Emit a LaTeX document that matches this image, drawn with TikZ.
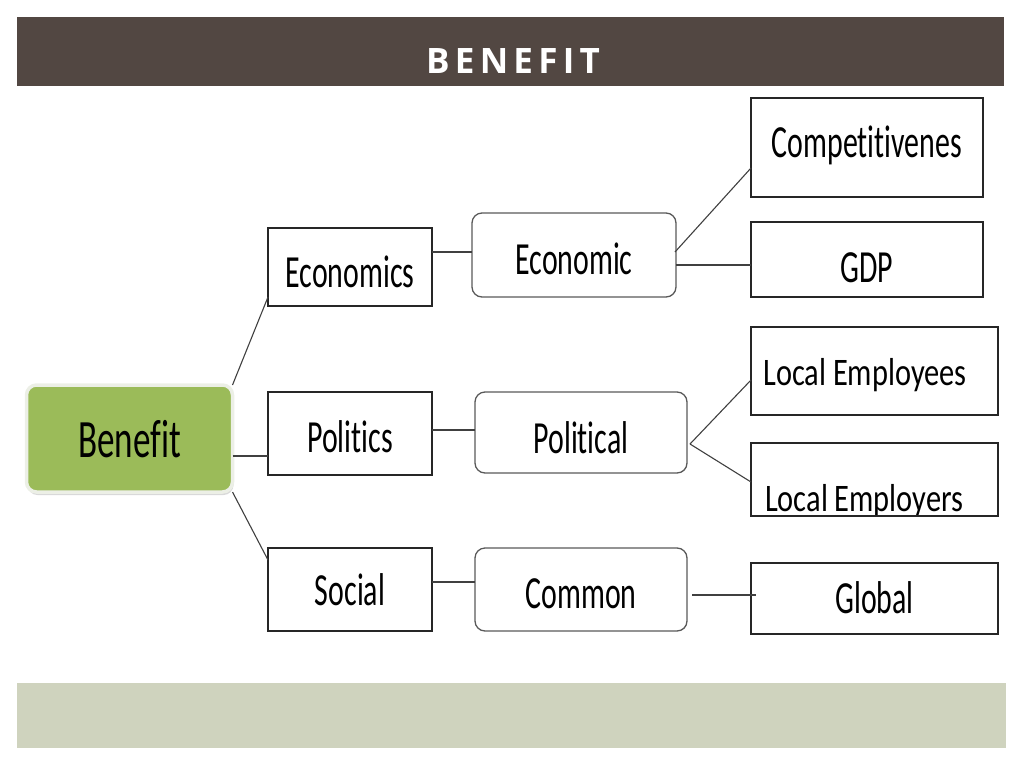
\documentclass[tikz,border=0pt]{standalone}
\usepackage{fontspec}
\setmainfont{Carlito}
\newfontfamily\titlefont[LetterSpace=15]{Open Sans}
\newfontfamily\boxfont[FakeStretch=0.65, Ligatures=NoCommon]{Carlito}
\newfontfamily\localfont[FakeStretch=0.78, Ligatures=NoCommon]{Carlito}
\usetikzlibrary{shadows}
\definecolor{titlebar}{RGB}{82,71,66}
\definecolor{footbar}{RGB}{207,211,190}
\definecolor{benefitgreen}{RGB}{155,187,89}
\definecolor{rim}{RGB}{236,239,230}

\begin{document}
\begin{tikzpicture}
  [x=1pt, y=-1pt, inner sep=0pt, outer sep=0pt,
   leaf/.style={draw=black!85, line width=1.3pt, text height=40pt, text depth=0pt,
     font=\boxfont\fontsize{46}{50}\selectfont},
   hub/.style={leaf, draw=black!65, rounded corners=10pt},
   root/.style={fill=benefitgreen, draw=rim, line width=3.5pt, rounded corners=10pt,
     drop shadow={shadow xshift=1pt, shadow yshift=-3pt, opacity=0.3},
     text height=37.8pt, text depth=0pt, font=\boxfont\fontsize{54}{58}\selectfont},
   local/.style={leaf, font=\localfont\fontsize{39}{44}\selectfont},
   link/.style={draw=black!75, line width=1.1pt}]
  \useasboundingbox (0,0) rectangle (1024,768);
  \fill [titlebar] (17,17) rectangle (1004,86);
  \fill [footbar] (17,683) rectangle (1006,748);
  \node [name=title, text=white, text height=26pt, text depth=0pt,
    font=\titlefont\bfseries\fontsize{35}{40}\selectfont] at (513,60) {BENEFIT};

  \node [name=benefit, root, minimum width=206pt, minimum height=107pt] at (129.5,438.5) {Benefit};

  \node [name=economics, leaf, minimum width=164pt, minimum height=78pt] at (350,267) {Economics};
  \node [name=politics, leaf, minimum width=164pt, minimum height=83pt, text height=37pt] at (350,433.5) {Politics};
  \node [name=social, leaf, minimum width=164pt, minimum height=83pt, text height=32pt] at (350,589.5) {Social};

  \node [name=economic, hub, minimum width=204pt, minimum height=84pt, text height=39pt] at (574,255) {Economic};
  \node [name=political, hub, minimum width=212pt, minimum height=81pt, text height=41pt] at (581,432.5) {Political};
  \node [name=common, hub, minimum width=212pt, minimum height=83pt, text height=37pt] at (581,589.5) {Common};

  \node [name=competitive, leaf, minimum width=232pt, minimum height=99pt, text height=20pt] at (867,147.5) {Competitivenes};
  \node [name=gdp, leaf, minimum width=232pt, minimum height=75pt, text height=46pt] at (867,259.5) {GDP};
  \node [name=employees, local, minimum width=247pt, minimum height=88pt, text height=28pt]
    at (874.5,371) {Local Employees\hspace*{19pt}};
  \node [name=employers, leaf, minimum width=247pt, minimum height=73pt,
    path picture={\node [anchor=base west, minimum width=0pt, minimum height=0pt,
      font=\localfont\fontsize{39}{44}\selectfont]
      at ([xshift=14pt,yshift=5pt]path picture bounding box.south west) {Local Employers};}]
    at (874.5,479.5) {};
  \node [name=global, leaf, minimum width=247pt, minimum height=71pt, text height=30pt] at (874.5,598.5) {Global};

  \path [link]
    (benefit.north east) edge ([yshift=9pt]economics.south west)
    ([yshift=-17.5pt]benefit.east) edge ([yshift=-17.5pt]benefit.east -| politics.west)
    (benefit.south east) edge ([yshift=-12pt]social.north west)
    ([yshift=15pt]economics.east) edge ([yshift=15pt]economics.east -| economic.west)
    ([yshift=3.5pt]politics.east) edge ([yshift=3.5pt]politics.east -| political.west)
    ([yshift=7.5pt]social.east) edge ([yshift=7.5pt]social.east -| common.west)
    ([xshift=-1pt,yshift=3pt]economic.east) edge ([yshift=-20.5pt]competitive.west)
    ([yshift=-10pt]economic.east) edge ([yshift=-10pt]economic.east -| gdp.west)
    ([xshift=3pt,yshift=-11.5pt]political.east) edge ([yshift=-9pt]employees.west)
    ([xshift=3pt,yshift=-11.5pt]political.east) edge ([yshift=-2.5pt]employers.west)
    ([xshift=5pt,yshift=-5.5pt]common.east) edge ([xshift=5pt,yshift=-5.5pt]common.east -| global.west);
\end{tikzpicture}
\end{document}
